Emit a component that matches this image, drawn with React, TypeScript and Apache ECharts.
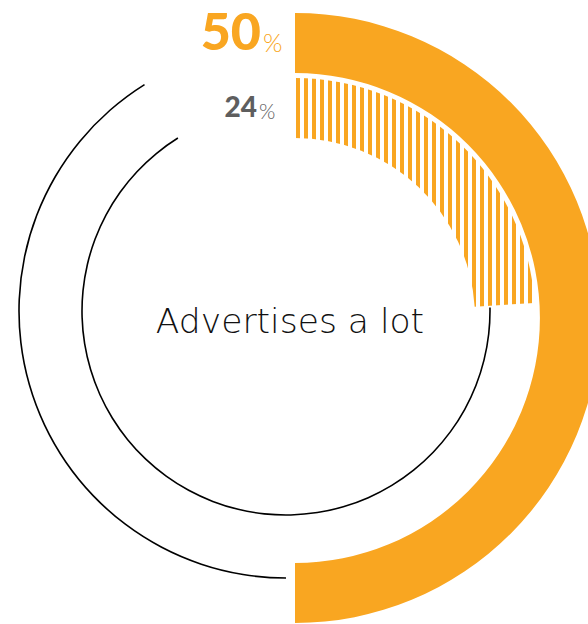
import React, { useEffect, useRef } from 'react';
import * as echarts from 'echarts';

const ORANGE = '#F9A621';
const GREY = '#5E5E5E';

const centerLabel = 'Advertises a lot';
// outer solid ring: share of respondents (percent) and the rest
const outerValues = [50, 50];
// inner hatched ring
const innerValues = [24, 76];
// thin remainder arcs: [drawn sweep in degrees, hidden rest]
const outerThinArc = [148, 212];
const innerThinArc = [239, 121];

export default function App() {
  const ref = useRef<HTMLDivElement>(null);
  useEffect(() => {
    const chart = echarts.init(ref.current!, null, { renderer: 'svg' });
    const hidden = { color: 'rgba(0,0,0,0)', borderWidth: 0 };
    const base: any = {
      type: 'pie',
      silent: true,
      clockwise: true,
      avoidLabelOverlap: false,
      label: { show: false },
      labelLine: { show: false },
      emphasis: { disabled: true },
    };
    chart.setOption({
      animation: false,
      series: [
        {
          ...base,
          center: [295, 318],
          radius: [245, 305],
          startAngle: 90,
          data: [
            { value: outerValues[0], itemStyle: { color: ORANGE, borderWidth: 0 } },
            { value: outerValues[1], itemStyle: hidden },
          ],
        },
        {
          ...base,
          center: [295, 318],
          radius: [180, 240],
          startAngle: 90,
          data: [
            {
              value: innerValues[0],
              itemStyle: {
                color: 'rgba(0,0,0,0)',
                borderWidth: 0,
                decal: {
                  symbol: 'rect',
                  symbolSize: 1,
                  color: ORANGE,
                  dashArrayX: [4, 4],
                  dashArrayY: [8, 0],
                  rotation: 0,
                },
              },
            },
            { value: innerValues[1], itemStyle: hidden },
          ],
        },
        {
          ...base,
          center: [286, 311],
          radius: [266.2, 267.8],
          startAngle: 270,
          data: [
            { value: outerThinArc[0], itemStyle: { color: '#000', borderWidth: 0 } },
            { value: outerThinArc[1], itemStyle: hidden },
          ],
        },
        {
          ...base,
          center: [286, 311],
          radius: [203.2, 204.8],
          startAngle: 1,
          data: [
            { value: innerThinArc[0], itemStyle: { color: '#000', borderWidth: 0 } },
            { value: innerThinArc[1], itemStyle: hidden },
          ],
        },
      ],
      graphic: [
        {
          type: 'text',
          x: 290,
          y: 321,
          style: {
            text: centerLabel,
            fill: '#111',
            font: '200 34.5px "DejaVu Sans"',
            textAlign: 'center',
            textVerticalAlign: 'middle',
          },
        },
        {
          type: 'text',
          x: 261,
          y: 30,
          style: {
            text: String(outerValues[0]),
            fill: ORANGE,
            font: '900 52px Lato',
            textAlign: 'right',
            textVerticalAlign: 'middle',
          },
        },
        {
          type: 'text',
          x: 263,
          y: 42,
          style: {
            text: '%',
            fill: ORANGE,
            font: '300 25px Lato',
            textAlign: 'left',
            textVerticalAlign: 'middle',
          },
        },
        {
          type: 'text',
          x: 257,
          y: 106,
          style: {
            text: String(innerValues[0]),
            fill: GREY,
            font: '900 28px Lato',
            textAlign: 'right',
            textVerticalAlign: 'middle',
          },
        },
        {
          type: 'text',
          x: 259,
          y: 110,
          style: {
            text: '%',
            fill: GREY,
            font: '300 21px Lato',
            textAlign: 'left',
            textVerticalAlign: 'middle',
          },
        },
      ],
    });
    return () => chart.dispose();
  }, []);
  return (
    <div
      ref={ref}
      style={{ position: 'absolute', left: 0, top: 0, width: 588, height: 624 }}
    />
  );
}
